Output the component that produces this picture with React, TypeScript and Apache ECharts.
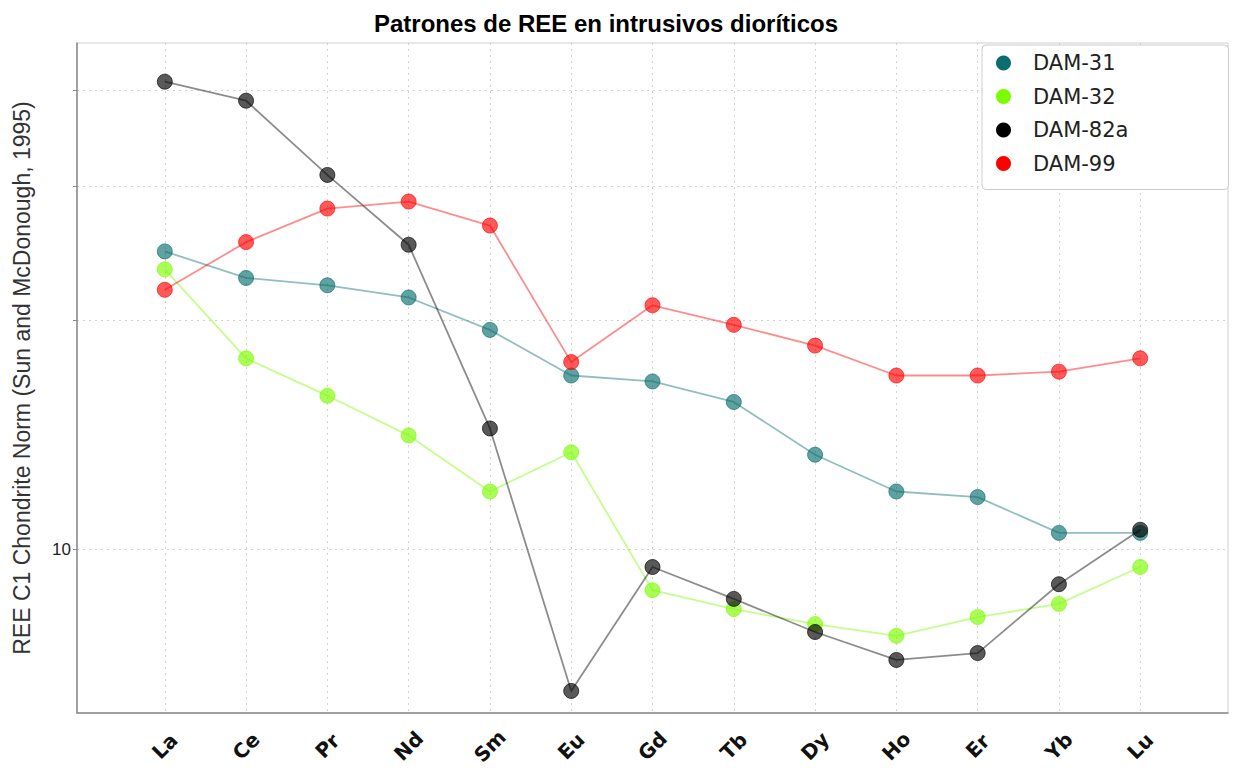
import React, { useEffect, useRef } from "react";
import * as echarts from "echarts";

const categories = ["La", "Ce", "Pr", "Nd", "Sm", "Eu", "Gd", "Tb", "Dy", "Ho", "Er", "Yb", "Lu"];
const seriesNames = ["DAM-31", "DAM-32", "DAM-82a", "DAM-99"];
const seriesColors = ["#0b6e6e", "#7cfc00", "#000000", "#ff0000"];
const dam31 = [24.6, 22.7, 22.2, 21.4, 19.4, 16.9, 16.6, 15.6, 13.3, 11.9, 11.7, 10.5, 10.5];
const dam32 = [23.3, 17.8, 15.9, 14.1, 11.9, 13.4, 8.83, 8.34, 7.97, 7.69, 8.14, 8.47, 9.47];
const dam82a = [41.1, 38.8, 31.0, 25.1, 14.4, 6.51, 9.47, 8.6, 7.78, 7.15, 7.3, 8.99, 10.6];
const dam99 = [21.9, 25.3, 28.0, 28.6, 26.6, 17.6, 20.9, 19.7, 18.5, 16.9, 16.9, 17.1, 17.8];
const allSeries = [dam31, dam32, dam82a, dam99];
const yTickValues = [10, 20, 30, 40];
const yLabelValues = [10];
const categoryIndices = categories.map((_, i) => i);

export default function App() {
  const ref = useRef<HTMLDivElement>(null);
  useEffect(() => {
    const chart = echarts.init(ref.current!, null, { renderer: "svg" });
    const series = allSeries.map((vals, k) => ({
      type: "line",
      name: seriesNames[k],
      data: vals.map((v, i) => [i, v]),
      symbol: "circle",
      symbolSize: 15,
      lineStyle: { color: seriesColors[k], width: 1.8, opacity: 0.45 },
      itemStyle: { color: seriesColors[k], opacity: 0.65, borderColor: seriesColors[k], borderWidth: 1 },
      emphasis: { disabled: true },
      z: 3 + k,
    }));
    chart.setOption({
      animation: false,
      backgroundColor: "#ffffff",
      title: {
        text: "Patrones de REE en intrusivos dioríticos",
        left: 601,
        top: 6,
        textAlign: "center",
        textStyle: { fontFamily: "Liberation Sans", fontWeight: "bold", fontSize: 24, color: "#000" },
      },
      legend: {
        orient: "vertical",
        left: 982,
        top: 45,
        icon: "circle",
        itemWidth: 15,
        itemHeight: 15,
        itemGap: 9.5,
        padding: [6, 100, 14, 14],
        borderColor: "#cccccc",
        borderWidth: 1,
        borderRadius: 4,
        backgroundColor: "#ffffff",
        itemStyle: { opacity: 1, borderWidth: 0 },
        textStyle: { fontFamily: "DejaVu Sans", fontSize: 21, color: "#222", lineHeight: 24, padding: [0, 0, 0, 17] },
        data: seriesNames,
      },
      grid: {
        left: 77,
        right: 5,
        top: 43,
        bottom: 55,
        show: true,
        borderColor: "#cfcfcf",
        borderWidth: 1,
      },
      xAxis: {
        type: "value",
        min: -1.08,
        max: 13.08,
        axisLine: { show: true, onZero: false, lineStyle: { color: "#8a8a8a", width: 1.5 } },
        axisTick: { show: false, customValues: categoryIndices },
        splitLine: { show: true, lineStyle: { color: "#d2d2d2", type: [2, 4], width: 1 } },
        axisLabel: {
          customValues: categoryIndices,
          formatter: (v: number) => categories[Math.round(v)] ?? "",
          rotate: 45,
          align: "center",
          verticalAlign: "middle",
          margin: 33,
          fontFamily: "DejaVu Sans",
          fontWeight: "bold",
          fontSize: 20,
          color: "#111",
        },
      },
      yAxis: {
        type: "log",
        logBase: 10,
        min: 6.09,
        max: 46.2,
        name: "REE C1 Chondrite Norm (Sun and McDonough, 1995)",
        nameLocation: "middle",
        nameGap: 44,
        nameTextStyle: { fontFamily: "Liberation Sans", fontSize: 23, color: "#333" },
        axisLine: { show: true, onZero: false, lineStyle: { color: "#8a8a8a", width: 1.5 } },
        axisTick: { show: true, length: 4, customValues: yTickValues, lineStyle: { color: "#8a8a8a" } },
        splitLine: { show: true, lineStyle: { color: "#d2d2d2", type: [2, 4], width: 1 } },
        minorTick: { show: false },
        minorSplitLine: { show: false },
        axisLabel: {
          customValues: yLabelValues,
          formatter: (v: number) => String(Math.round(v)),
          fontFamily: "Liberation Sans",
          fontSize: 17,
          color: "#222",
          margin: 6,
        },
      },
      series,
    });
    return () => chart.dispose();
  }, []);
  return <div ref={ref} style={{ position: "absolute", left: 0, top: 0, width: 1233, height: 768 }} />;
}
